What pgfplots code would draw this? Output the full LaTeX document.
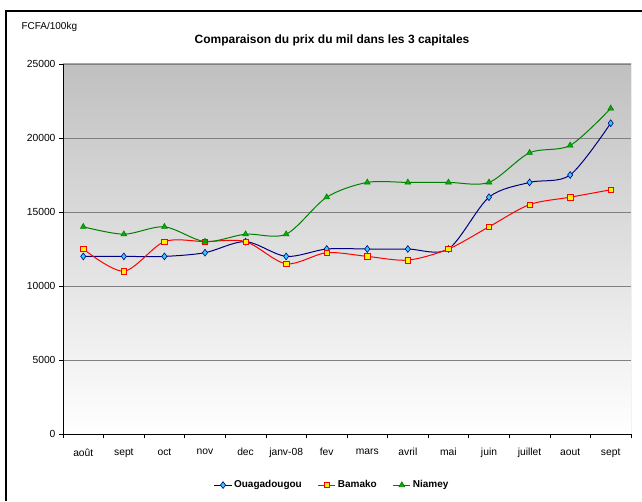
\documentclass[border=0pt]{standalone}
\usepackage{fontspec}
\setmainfont{Liberation Sans}
\usepackage{pgfplots}
\pgfplotsset{compat=1.18}
\definecolor{navyc}{RGB}{0,0,128}
\definecolor{cyanf}{RGB}{51,204,255}
\definecolor{greenl}{RGB}{0,128,0}
\definecolor{greenf}{RGB}{0,180,0}
\definecolor{topgray}{RGB}{192,192,192}
\definecolor{gridc}{RGB}{128,128,128}
\begin{document}
\begin{tikzpicture}[x=1pt,y=1pt]
\useasboundingbox (0,0) rectangle (642,501);
\fill[white] (0,0) rectangle (642,501);
\draw[line width=2.5pt,black] (6,0) -- (6,490) -- (642,490);
\node[anchor=west,font=\fontsize{10}{12}\selectfont] at (18,474) {FCFA/100kg};
\node[font=\bfseries\fontsize{12}{14}\selectfont] at (332,461) {Comparaison du prix du mil dans les 3 capitales};
\begin{axis}[
  at={(63pt,67pt)}, anchor=south west,
  scale only axis, width=568pt, height=370pt,
  xmin=-0.5, xmax=13.5, ymin=0, ymax=25000,
  axis lines=left, axis line style={-, black, line width=0.8pt},
  axis background/.style={shade, top color=topgray, bottom color=white},
  xtick={0,...,13},
  xticklabels={août,sept,oct,nov,dec,janv-08,fev,mars,avril,mai,juin,juillet,aout,sept},
  xticklabel style={yshift=-7pt},
  major x tick style={draw=none},
  minor xtick={-0.5,0.5,...,13.5},
  minor tick length=4pt,
  every minor tick/.style={black, line width=0.6pt},
  ytick={0,5000,...,25000},
  major tick length=4pt,
  tick align=outside,
  ytick style={black, line width=0.6pt},
  ymajorgrids, grid style={gridc, line width=0.8pt},
  tick label style={font=\fontsize{10.3}{12}\selectfont},
  /pgf/number format/assume math mode=true,
  /pgf/number format/set thousands separator={},
  scaled y ticks=false,
  legend style={at={(0.474,-0.138)}, anchor=center, draw=none, fill=none,
    font=\bfseries\fontsize{10}{12}\selectfont, legend columns=3,
    /tikz/every even column/.append style={column sep=14pt}},
]
\addplot[navyc, line width=1pt, smooth, tension=0.5, mark=diamond*, mark size=3.4pt,
  mark options={fill=cyanf, draw=navyc, line width=0.6pt}]
  coordinates {(0,12000)(1,12000)(2,12000)(3,12250)(4,13000)(5,12000)(6,12500)(7,12500)(8,12500)(9,12500)(10,16000)(11,17000)(12,17500)(13,21000)};
\addlegendentry{Ouagadougou}
\addplot[red, line width=1pt, smooth, tension=0.5, mark=square*, mark size=2.7pt,
  mark options={fill=yellow, draw=red, line width=0.6pt}]
  coordinates {(0,12500)(1,11000)(2,13000)(3,13000)(4,13000)(5,11500)(6,12250)(7,12000)(8,11750)(9,12500)(10,14000)(11,15500)(12,16000)(13,16500)};
\addlegendentry{Bamako}
\addplot[greenl, line width=1pt, smooth, tension=0.5, mark=triangle*, mark size=3.3pt,
  mark options={fill=greenf, draw=greenl, line width=0.6pt}]
  coordinates {(0,14000)(1,13500)(2,14000)(3,13000)(4,13500)(5,13500)(6,16000)(7,17000)(8,17000)(9,17000)(10,17000)(11,19000)(12,19500)(13,22000)};
\addlegendentry{Niamey}
\draw[gray!70, line width=1pt] (rel axis cs:0,1) -- (rel axis cs:1,1) -- (rel axis cs:1,0);
\end{axis}
\end{tikzpicture}
\end{document}
